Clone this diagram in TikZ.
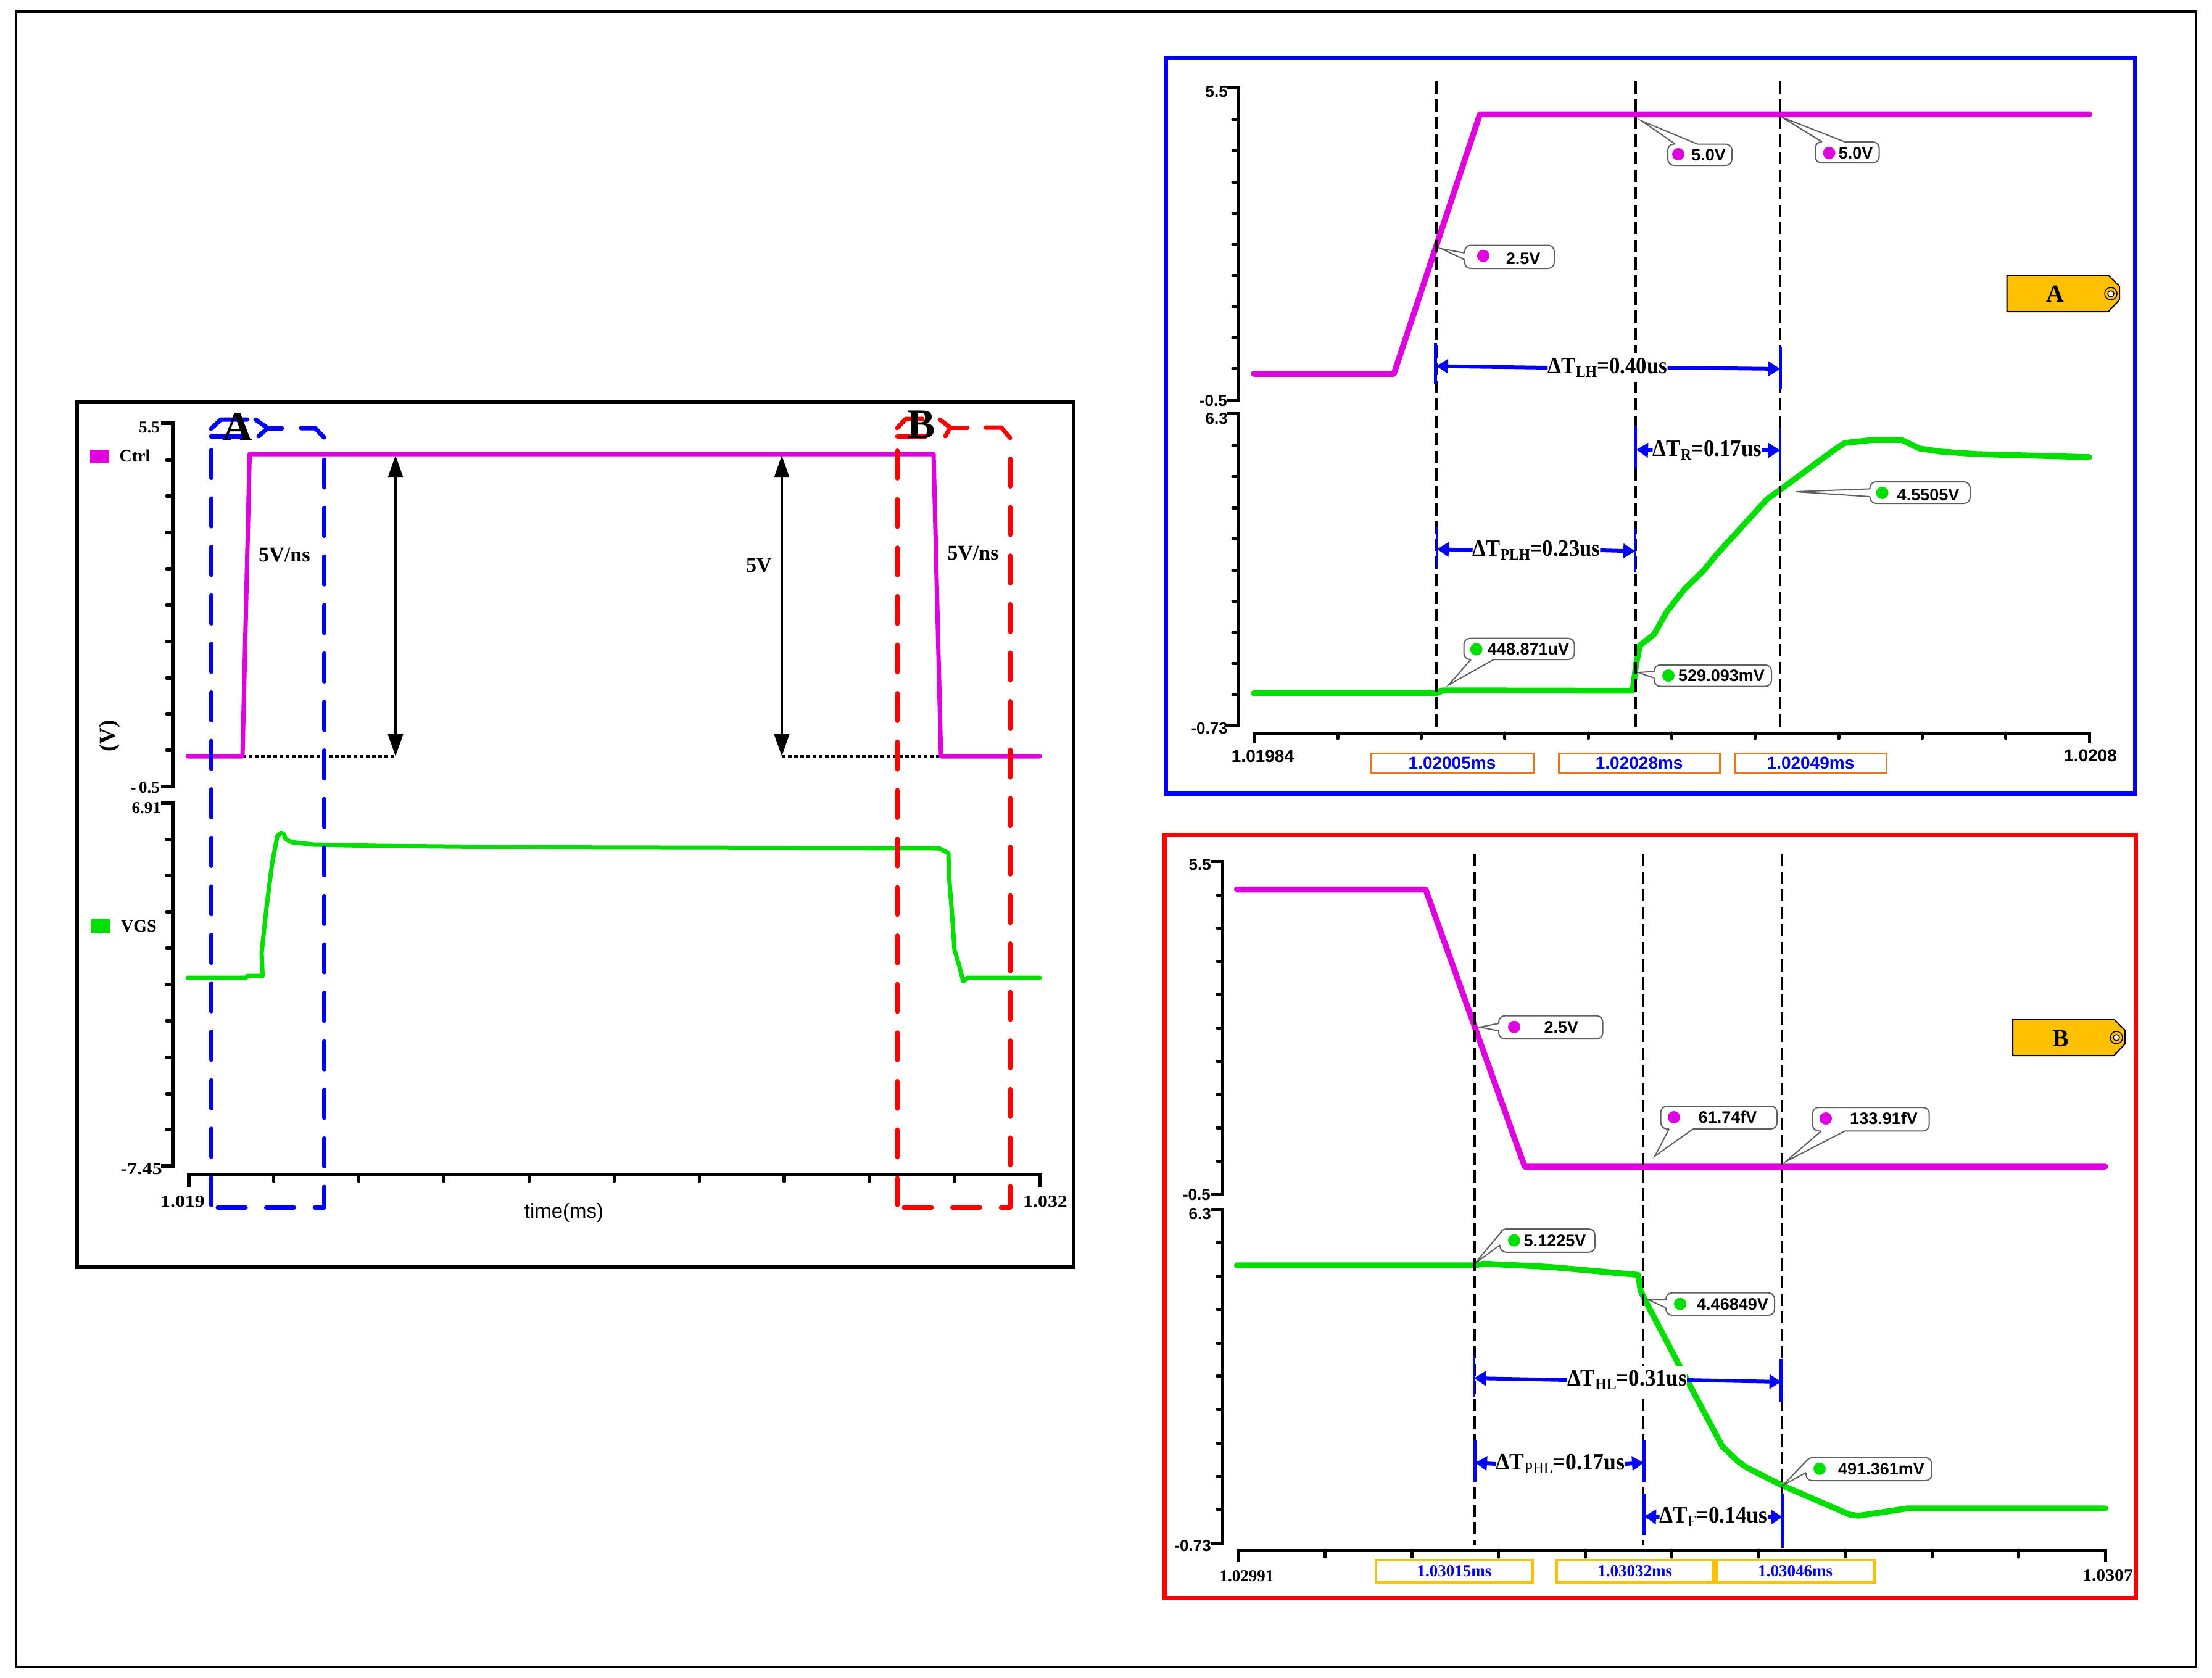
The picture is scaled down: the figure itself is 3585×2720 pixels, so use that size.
\documentclass[tikz,border=0pt]{standalone}
\usepackage{fontspec}
\usepackage{graphicx}
\setmainfont{Liberation Serif}
\setsansfont{Liberation Sans}
\usetikzlibrary{arrows.meta}
\definecolor{cmag}{HTML}{E000E0}
\definecolor{cgreen}{HTML}{00E000}
\definecolor{cblue}{HTML}{0000FF}
\definecolor{cred}{HTML}{FF0000}
\definecolor{cgold}{HTML}{FFC000}
\definecolor{corange}{HTML}{EE7418}
\definecolor{cgrey}{HTML}{5F5F5F}
\newcommand\fs[1]{\fontsize{#1}{#1}\selectfont}
\newcommand\subs[1]{\raisebox{-6pt}{\fs{26}#1}}
\newcommand\subr[1]{\raisebox{-6pt}{\fs{26}\mdseries #1}}
\newcommand\dt[2]{\scalebox{#1}[1]{#2}}
\newcount\cnum
\tikzset{
  frameline/.style={line width=#1,line join=miter},
  axisline/.style={line width=#1,line join=miter,black},
  tickline/.style={line width=#1,line cap=round,black},
  curve/.style={line width=#1,line cap=round,line join=round},
  boxdash/.style={line width=7pt,line cap=round,line join=round,dash pattern=on 45pt off 33.6pt},
  boxstroke/.style={line width=7pt,line cap=round,line join=round},
  guide/.style={line width=4pt,black,dash pattern=on 20pt off 8.5pt},
  dotted base/.style={line width=4pt,black,dash pattern=on 6pt off 4pt},
  ticklab/.style={inner sep=0pt,font=\fs{27}\bfseries},
  sanslab/.style={inner sep=0pt,font=\fs{26}\sffamily\bfseries},
  calltext/.style={inner sep=0pt,font=\fs{27}\sffamily\bfseries},
  dimlab/.style={inner sep=0pt,font=\fs{38}\bfseries},
  dimwhite/.style={dimlab,fill=white,minimum height=46pt},
  dimarr/.style={cblue,line width=6pt,-{Triangle[length=19pt,width=23pt]}},
  dimbar/.style={cblue,line width=4.5pt},
  bigarrow/.style={black,line width=4pt,{Triangle[length=36pt,width=24pt]}-{Triangle[length=36pt,width=24pt]}},
}
\newcommand\callout[9]{%
  \global\advance\cnum by 1
  \draw[cgrey,line width=2pt,rounded corners=10pt,fill=white] #1 rectangle #2;
  \fill[white] #4 -- #3 -- #5 -- cycle;
  \draw[white,line width=3.5pt] #4 -- #5;
  \draw[cgrey,line width=2pt,line join=miter] #4 -- #3 -- #5;
  \fill[#9] #6 circle[radius=10pt];
  \node[calltext] (call\the\cnum) at #7 {#8};
}
\begin{document}
\begin{tikzpicture}[x=1pt,y=-1pt]
\useasboundingbox (0,0) rectangle (3585,2720);
\fill[white] (0,0) rectangle (3585,2720);
% outer frame
\draw[frameline=3.5pt,black] (26,19) rectangle (3559,2702);

% ============ LEFT PANEL
\draw[frameline=6pt,black] (124.5,652) rectangle (1740,2054);
% axes
\draw[axisline=6pt] (261,686) -- (279.6,686) -- (279.6,1275) -- (261,1275);
\foreach \y in {746,804,863,922,981,1040,1099,1157,1216} \draw[tickline=5.5pt] (279.6,\y) -- (270,\y);
\draw[axisline=6pt] (261,1302) -- (279.6,1302) -- (279.6,1890) -- (261,1890);
\foreach \y in {1361,1419,1478,1537,1596,1655,1714,1773,1831} \draw[tickline=5.5pt] (279.6,\y) -- (270,\y);
\draw[axisline=6pt] (305.6,1924) -- (305.6,1903.5) -- (1685,1903.5) -- (1685,1924);
\foreach \i in {1,...,9} \draw[tickline=5.5pt] ({305.6+137.94*\i},1903.5) -- ({305.6+137.94*\i},1915);
% tick labels
\node[ticklab,anchor=east] (l55) at (259,693) {5.5};
\node[ticklab,anchor=east] (lm05) at (259,1277) {-\,0.5};
\node[ticklab,anchor=east] (l691) at (261,1309.5) {6.91};
\node[ticklab,anchor=east] (lm745) at (263,1894.5) {\scalebox{1.2}[1]{-7.45}};
\node[ticklab] (l1019) at (296,1948) {\scalebox{1.18}[1]{1.019}};
\node[ticklab] (l1032) at (1694,1948) {\scalebox{1.18}[1]{1.032}};
\node[inner sep=0pt,font=\fs{33}\sffamily] (ltime) at (914,1966) {time(ms)};
\node[inner sep=0pt,font=\fs{37}\bfseries,rotate=90] (lV) at (177.5,1193) {(V)};
% legend
\fill[cmag] (146,730) rectangle (176.5,751);
\node[inner sep=0pt,font=\fs{28}\bfseries,anchor=west] (lctrl) at (193.4,739) {Ctrl};
\fill[cgreen] (148,1490) rectangle (178,1513);
\node[inner sep=0pt,font=\fs{28}\bfseries,anchor=west] (lvgs) at (196,1501.5) {VGS};
% dotted levels + arrows
\draw[dotted base] (393,1226) -- (641,1226);
\draw[dotted base] (1267,1226) -- (1525,1226);
\draw[bigarrow] (641,738) -- (641,1226);
\draw[bigarrow] (1267,738) -- (1267,1226);
% curves
\draw[curve=7pt,cmag] (304,1226) -- (393,1226) -- (404.6,736) -- (1513,736) -- (1525,1226) -- (1685,1226);
\draw[curve=7pt,cgreen] (304,1585) -- (398.5,1585) -- (401,1582) -- (425.5,1582) -- (424,1544) -- (431.6,1474) -- (441,1399.5) -- (449.5,1355) -- (455.6,1350) -- (460,1352) -- (463,1360) -- (472.4,1365) -- (508,1369) -- (610,1371) -- (900,1373.6) -- (1522,1375) -- (1537,1383) -- (1538,1420) -- (1543,1483) -- (1547,1540) -- (1555,1567) -- (1561,1591) -- (1568,1585) -- (1685,1585);
% blue selection
\draw[boxstroke,cblue] (342,695) -- (358,680) -- (401,680);
\draw[boxstroke,cblue] (342,707) -- (395,707);
\draw[boxstroke,cblue] (414,680) -- (434,694) -- (419,707);
\draw[boxstroke,cblue] (434,694) -- (457,694);
\draw[boxstroke,cblue] (488,694) -- (511,694) -- (525,709);
\draw[boxdash,cblue] (342,729.5) -- (342,1953.5);
\draw[boxdash,cblue] (525,745) -- (525,1957);
\draw[boxdash,cblue] (353,1957) -- (525,1957);
% red selection
\draw[boxstroke,cred] (1454,694) -- (1468,679) -- (1495,679);
\draw[boxstroke,cred] (1454,707) -- (1500,707);
\draw[boxstroke,cred] (1523,680) -- (1540,693) -- (1532,707);
\draw[boxstroke,cred] (1540,693) -- (1568,693);
\draw[boxstroke,cred] (1597,693) -- (1623,693) -- (1637,710);
\draw[boxdash,cred] (1454,730.5) -- (1454,1953.5);
\draw[boxdash,cred] (1637,743.5) -- (1637,1957);
\draw[boxdash,cred] (1465,1957) -- (1637,1957);
% labels
\node[inner sep=0pt,font=\fs{68}\bfseries] (lA) at (385,692) {A};
\node[inner sep=0pt,font=\fs{68}\bfseries] (lB) at (1493,688) {B};
\node[inner sep=0pt,font=\fs{34}\bfseries] (lsr1) at (461,900) {5V/ns};
\node[inner sep=0pt,font=\fs{34}\bfseries] (lsr2) at (1577,897) {5V/ns};
\node[inner sep=0pt,font=\fs{34}\bfseries] (l5v) at (1230,917) {5V};

% ============ PANEL A
\draw[frameline=7pt,cblue] (1889,93.5) rectangle (3460,1286);
\draw[axisline=5pt] (1989,142) -- (2007,142) -- (2007,648) -- (1989,648);
\foreach \y in {193.5,244,295,345,396,446.5,497,547,597.6} \draw[tickline=5pt] (2007,\y) -- (1998,\y);
\draw[axisline=5pt] (1989,670) -- (2007,670) -- (2007,1176) -- (1989,1176);
\foreach \y in {722,772,823,873,924,974,1025,1075,1126} \draw[tickline=5pt] (2007,\y) -- (1998,\y);
\draw[axisline=5pt] (2032.7,1205) -- (2032.7,1188) -- (3386,1188) -- (3386,1205);
\foreach \i in {1,...,9} \draw[tickline=5pt] ({2032.7+135.33*\i},1188) -- ({2032.7+135.33*\i},1197);
\node[sanslab,anchor=east] (a55) at (1990,148.6) {5.5};
\node[sanslab,anchor=east] (am05) at (1989,649.4) {-0.5};
\node[sanslab,anchor=east] (a63) at (1990,679) {6.3};
\node[sanslab,anchor=east] (am073) at (1990,1181) {-0.73};
\node[inner sep=0pt,font=\fs{28}\sffamily\bfseries] (ax1) at (2046.5,1225.7) {1.01984};
\node[inner sep=0pt,font=\fs{28}\sffamily\bfseries] (ax2) at (3388,1225) {1.0208};
% curves
\draw[curve=9.5pt,cmag] (2032,606) -- (2259,606) -- (2398.4,185.3) -- (3386,185.3);
\draw[curve=9.5pt,cgreen] (2032,1123.7) -- (2328,1123.7) -- (2339,1119) -- (2646,1119.7) -- (2652,1075) -- (2658,1046) -- (2681,1028) -- (2701,992) -- (2730,955) -- (2761,925) -- (2781,900) -- (2864,809) -- (2885,794) -- (2973,729) -- (2990,718) -- (3036,713) -- (3082,713) -- (3111,727) -- (3145,732) -- (3203,736) -- (3386,741);
% callouts
\callout{(2373.7,397.5)}{(2519,435)}{(2336,403)}{(2373.7,410)}{(2373.7,421)}{(2404,414.7)}{(2468.5,419.6)}{2.5V}{cmag}
\callout{(2703,233.5)}{(2807,268)}{(2660.7,196)}{(2715,233.5)}{(2751,233.5)}{(2720,250)}{(2769,251)}{5.0V}{cmag}
\callout{(2942,230)}{(3045.5,264)}{(2888,190)}{(2953,230)}{(2990,230)}{(2964.5,248)}{(3007.6,248)}{5.0V}{cmag}
\callout{(3030.5,781)}{(3193,816)}{(2910,797)}{(3030.5,792.4)}{(3030.5,805)}{(3050.6,799)}{(3125,802)}{4.5505V}{cgreen}
\callout{(2372.5,1034.7)}{(2551.6,1069)}{(2348,1110)}{(2384,1069)}{(2421,1069)}{(2392.6,1052.5)}{(2477,1052.5)}{448.871uV}{cgreen}
\callout{(2681,1077.8)}{(2871,1112.6)}{(2655,1090)}{(2681,1088.5)}{(2681,1099)}{(2704,1095)}{(2790,1095)}{529.093mV}{cgreen}
% guides
\draw[guide] (2327.8,132) -- (2327.8,1179);
\draw[guide] (2651,132) -- (2651,1179);
\draw[guide] (2885,132) -- (2885,1179);
% dimension labels
\node[dimwhite] (dlh) at (2605.5,596) {\dt{.92}{ΔT\subs{LH}=0.40us}};
\coordinate (dlhL) at (2328,593.5);
\coordinate (dlhR) at (2885,598);
\draw[dimarr] (dlh.west) -- (dlhL);
\draw[dimarr] (dlh.east) -- (dlhR);
\draw[dimbar] (2326.6,555.5) -- (2326.6,622);
\draw[dimbar] (2885.5,561.6) -- (2885.5,631);
\node[dimlab] (dr) at (2767,730) {\dt{.92}{ΔT\subs{R}=0.17us}};
\coordinate (drL) at (2652,729);
\coordinate (drR) at (2885,730);
\draw[dimarr] (dr.west) -- (drL);
\draw[dimarr] (dr.east) -- (drR);
\draw[dimbar] (2650.5,691) -- (2650.5,758);
\draw[dimbar] (2885,693) -- (2885,765.6);
\node[dimlab] (dplh) at (2490,892) {\dt{.91}{ΔT\subs{PLH}=0.23us}};
\coordinate (dplhL) at (2329,890);
\coordinate (dplhR) at (2650,893.5);
\draw[dimarr] (dplh.west) -- (dplhL);
\draw[dimarr] (dplh.east) -- (dplhR);
\draw[dimbar] (2329,854) -- (2329,920);
\draw[dimbar] (2650,857) -- (2650,928);
% time boxes
\node[draw=corange,line width=3pt,minimum width=263pt,minimum height=31pt,inner sep=0pt,text=cblue,font=\fs{28}\sffamily\bfseries] (ta1) at (2353.5,1236.5) {1.02005ms};
\node[draw=corange,line width=3pt,minimum width=260.6pt,minimum height=31pt,inner sep=0pt,text=cblue,font=\fs{28}\sffamily\bfseries] (ta2) at (2656.7,1236.5) {1.02028ms};
\node[draw=corange,line width=3pt,minimum width=245pt,minimum height=31pt,inner sep=0pt,text=cblue,font=\fs{28}\sffamily\bfseries] (ta3) at (2934.5,1236.5) {1.02049ms};
% tag
\draw[black,line width=2pt,fill=cgold,line join=miter] (3252.7,446.4) -- (3417,446.4) -- (3435,464) -- (3435,486) -- (3417,505) -- (3252.7,505) -- cycle;
\node[inner sep=0pt,font=\fs{40}\bfseries] (tagA) at (3331,476) {A};
\draw[black,line width=1.5pt] (3421,476) circle[radius=10pt];
\draw[black,line width=1.5pt,fill=white] (3421,476) circle[radius=5pt];

% ============ PANEL B
\draw[frameline=7pt,cred] (1887,1353) rectangle (3461,2590);
\draw[axisline=5pt] (1963,1396) -- (1981.6,1396) -- (1981.6,1936) -- (1963,1936);
\foreach \y in {1451,1504,1558,1612,1666,1720,1774,1828,1882} \draw[tickline=5pt] (1981.6,\y) -- (1972.5,\y);
\draw[axisline=5pt] (1963,1960) -- (1981.6,1960) -- (1981.6,2501.6) -- (1963,2501.6);
\foreach \y in {2014.6,2069,2122,2177,2230.5,2284,2339,2393,2446.5} \draw[tickline=5pt] (1981.6,\y) -- (1972.5,\y);
\draw[axisline=5pt] (2007.4,2532) -- (2007.4,2513) -- (3412,2513) -- (3412,2532);
\foreach \i in {1,...,9} \draw[tickline=5pt] ({2007.4+140.46*\i},2513) -- ({2007.4+140.46*\i},2524);
\node[sanslab,anchor=east] (b55) at (1963,1401.4) {5.5};
\node[sanslab,anchor=east] (bm05) at (1962,1937) {-0.5};
\node[sanslab,anchor=east] (b63) at (1963,1968) {6.3};
\node[sanslab,anchor=east] (bm073) at (1963,2506) {-0.73};
\node[ticklab] (bx1) at (2020.6,2554.5) {1.02991};
\node[ticklab] (bx2) at (3416,2554) {\scalebox{1.1}[1]{1.0307}};
% curves
\draw[curve=9.5pt,cmag] (2004.6,1441.7) -- (2310.5,1441.7) -- (2471,1891) -- (3412,1891);
\draw[curve=9.5pt,cgreen] (2004.6,2051) -- (2390,2051) -- (2405,2048.4) -- (2511,2053.6) -- (2655,2066.5) -- (2658.8,2092) -- (2667,2109) -- (2722,2214) -- (2791,2344) -- (2817,2369) -- (2831,2379) -- (2888,2407.6) -- (2997.5,2455) -- (3012,2457) -- (3092,2445) -- (3200,2445) -- (3412,2445);
% callouts
\callout{(2429,1646.6)}{(2597.6,1684)}{(2398.4,1665)}{(2429,1659)}{(2429,1671)}{(2454,1664.7)}{(2530.4,1665)}{2.5V}{cmag}
\callout{(2691.7,1793)}{(2880,1830)}{(2682,1874)}{(2705,1830)}{(2744,1830)}{(2713,1811)}{(2800,1811)}{61.74fV}{cmag}
\callout{(2937.7,1795)}{(3126.7,1833.3)}{(2894,1883)}{(2951.7,1833.3)}{(2990,1833.3)}{(2959,1813)}{(3053,1813)}{133.91fV}{cmag}
\callout{(2431,1992)}{(2585,2029.8)}{(2390,2048.4)}{(2434,1996)}{(2431,2018)}{(2454,2010.7)}{(2520,2010.7)}{5.1225V}{cgreen}
\callout{(2700,2095.7)}{(2876,2132)}{(2672,2107)}{(2700,2107)}{(2700,2120)}{(2723,2113.7)}{(2808,2113.7)}{4.46849V}{cgreen}
\callout{(2927,2362.8)}{(3130.7,2400)}{(2889.6,2407.6)}{(2930,2365.5)}{(2927,2387)}{(2949,2380.8)}{(3049,2380.8)}{491.361mV}{cgreen}
% guides
\draw[guide] (2389.8,1384.4) -- (2389.8,2503.7);
\draw[guide] (2663,1384.4) -- (2663,2503.7);
\draw[guide] (2888.4,1384.4) -- (2888.4,2503.7);
% dimension labels
\node[dimwhite] (dhl) at (2637,2237) {\dt{.92}{ΔT\subs{HL}=0.31us}};
\coordinate (dhlL) at (2389,2234);
\coordinate (dhlR) at (2886.7,2240);
\draw[dimarr] (dhl.west) -- (dhlL);
\draw[dimarr] (dhl.east) -- (dhlR);
\draw[dimbar] (2389,2197) -- (2389,2264);
\draw[dimbar] (2886.7,2203) -- (2886.7,2272);
\node[dimlab] (dphl) at (2529,2373) {\dt{.94}{ΔT\subr{PHL}=0.17us}};
\coordinate (dphlL) at (2391,2371);
\coordinate (dphlR) at (2664,2371);
\draw[dimarr] (dphl.west) -- (dphlL);
\draw[dimarr] (dphl.east) -- (dphlR);
\draw[dimbar] (2390.7,2335) -- (2390.7,2402);
\draw[dimbar] (2664.5,2335) -- (2664.5,2402);
\node[dimlab] (df) at (2777,2459) {\dt{.93}{ΔT\subr{F}=0.14us}};
\coordinate (dfL) at (2665,2458);
\coordinate (dfR) at (2889,2459);
\draw[dimarr] (df.west) -- (dfL);
\draw[dimarr] (df.east) -- (dfR);
\draw[dimbar] (2664.5,2421.7) -- (2664.5,2488.7);
\draw[dimbar] (2889.6,2421.7) -- (2889.6,2510);
% time boxes
\node[draw=cgold,line width=4.5pt,minimum width=254pt,minimum height=35.5pt,inner sep=0pt,text=cblue,font=\fs{27}\bfseries] (tb1) at (2357,2546.7) {1.03015ms};
\node[draw=cgold,line width=4.5pt,minimum width=254pt,minimum height=35.5pt,inner sep=0pt,text=cblue,font=\fs{27}\bfseries] (tb2) at (2649.7,2546.7) {1.03032ms};
\node[draw=cgold,line width=4.5pt,minimum width=255.6pt,minimum height=35.5pt,inner sep=0pt,text=cblue,font=\fs{27}\bfseries] (tb3) at (2909.8,2546.7) {1.03046ms};
% tag
\draw[black,line width=2pt,fill=cgold,line join=miter] (3262,1652) -- (3426,1652) -- (3444,1670) -- (3444,1692) -- (3426,1711) -- (3262,1711) -- cycle;
\node[inner sep=0pt,font=\fs{40}\bfseries] (tagB) at (3340,1683) {B};
\draw[black,line width=1.5pt] (3430,1682) circle[radius=10pt];
\draw[black,line width=1.5pt,fill=white] (3430,1682) circle[radius=5pt];
\end{tikzpicture}
\end{document}
